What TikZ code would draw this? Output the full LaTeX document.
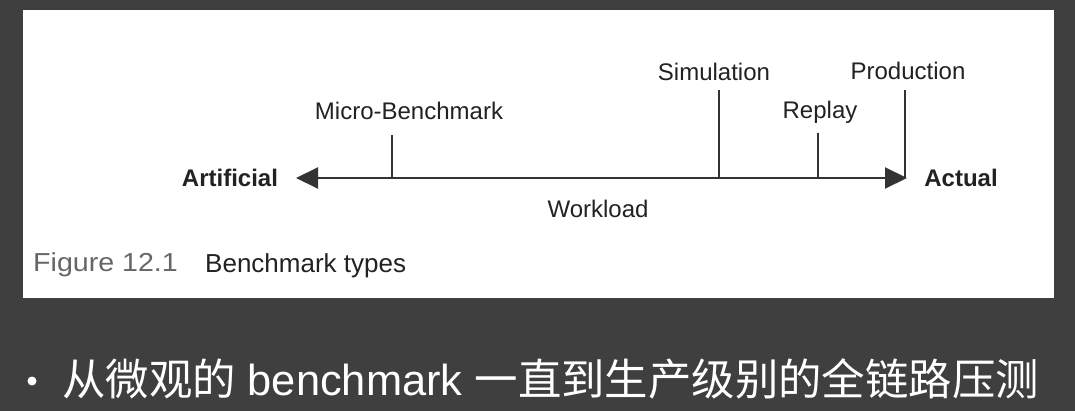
\documentclass[tikz,border=0pt]{standalone}
\usepackage{fontspec}
\setmainfont{Liberation Sans}
\newfontfamily\cjk{Noto Sans CJK SC}
\usetikzlibrary{arrows.meta}
\definecolor{slidebg}{HTML}{3F3F3F}
\definecolor{ink}{HTML}{222222}
\definecolor{axisgray}{HTML}{333333}
\definecolor{capgray}{HTML}{666666}
\begin{document}
\begin{tikzpicture}[x=1pt,y=-1pt,
  lbl/.style={text=ink,inner sep=0pt,font=\fontsize{24}{28}\selectfont},
  endlbl/.style={lbl,font=\fontsize{24}{28}\selectfont\bfseries},
  tickline/.style={draw=axisgray,line width=2pt},
  axis/.style={draw=axisgray,line width=2pt,
    {Triangle[length=22pt,width=21pt]}-{Triangle[length=22pt,width=21pt]}},
  captext/.style={inner sep=0pt,anchor=west,font=\fontsize{26}{30}\selectfont},
  bullettext/.style={text=white,inner sep=0pt,anchor=west,font=\fontsize{43.4}{50}\selectfont}]
% slide background and white figure panel
\fill[slidebg] (0,0) rectangle (1075,411);
\useasboundingbox (0,0) rectangle (1075,411);
\fill[white] (23,10) rectangle (1054,298);

% workload axis
\coordinate (left) at (296,178);
\coordinate (right) at (907,178);
\draw[axis] (left) -- (right);
\node[endlbl] (artificial) at (230,178) {Artificial};
\node[endlbl] (actual) at (961,178) {Actual};
\node[lbl] (workload) at (598,209) {Workload};

% benchmark types along the axis
\node[lbl] (micro) at (409,111) {Micro-Benchmark};
\coordinate (microTop) at (392,135);
\coordinate (microBase) at (392,178);
\draw[tickline] (microTop) -- (microBase);

\node[lbl] (sim) at (714,72) {Simulation};
\coordinate (simTop) at (719,90);
\coordinate (simBase) at (719,178);
\draw[tickline] (simTop) -- (simBase);

\node[lbl] (replay) at (820,112) {Replay};
\coordinate (replayTop) at (818,133);
\coordinate (replayBase) at (818,178);
\draw[tickline] (replayTop) -- (replayBase);

\node[lbl] (prod) at (908,71) {Production};
\coordinate (prodTop) at (905,90);
\coordinate (prodBase) at (905,178);
\draw[tickline] (prodTop) -- (prodBase);

% caption
\node[captext,text=capgray] (fignum) at (33,265) {\scalebox{1.1}[1]{Figure 12.1}};
\node[captext,text=ink] (figtitle) at (205,266) {Benchmark types};

% bullet line
\fill[white] (32,381) circle (4.5);
\node[bullettext] (point) at (62,379) {{\cjk 从微观的} benchmark {\cjk 一直到生产级别的全链路压测}};
\end{tikzpicture}
\end{document}
